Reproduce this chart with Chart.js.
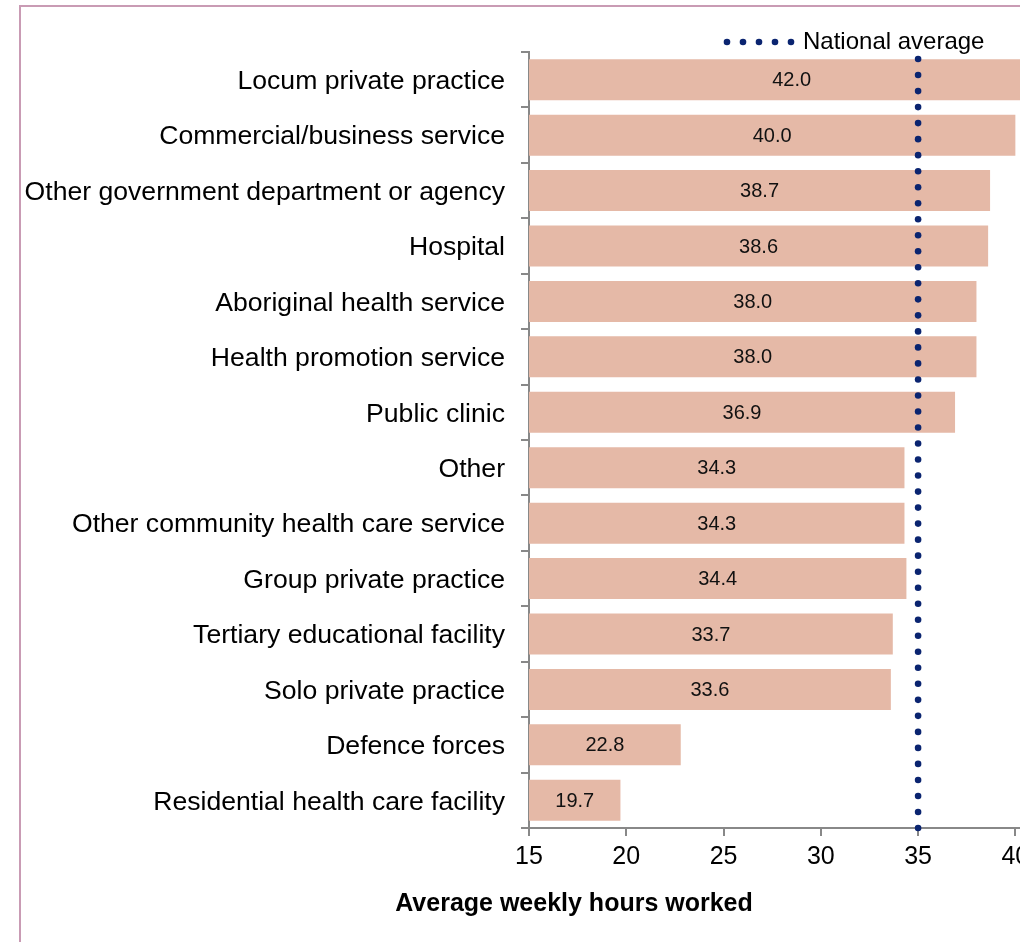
<!DOCTYPE html>
<html>
<head>
<meta charset="utf-8">
<title>Average weekly hours worked</title>
<script src="https://cdn.jsdelivr.net/npm/chart.js@4"></script>
<style>
html, body { margin: 0; padding: 0; background: #fff; overflow: hidden; }
#frame { position: absolute; left: 19px; top: 5px; width: 1100px; height: 1000px; border: 2px solid #c99bb4; }
</style>
</head>
<body>
<div id="frame"><canvas id="myChart" width="1050" height="935"></canvas></div>
<script>
const categories = [
    'Locum private practice',
    'Commercial/business service',
    'Other government department or agency',
    'Hospital',
    'Aboriginal health service',
    'Health promotion service',
    'Public clinic',
    'Other',
    'Other community health care service',
    'Group private practice',
    'Tertiary educational facility',
    'Solo private practice',
    'Defence forces',
    'Residential health care facility'
];
const hours = [42.0, 40.0, 38.7, 38.6, 38.0, 38.0, 36.9, 34.3, 34.3, 34.4, 33.7, 33.6, 22.8, 19.7];
const nationalAverage = 35.0;
const xMin = 15;
const xMax = 42.5;
const xStep = 5;

const fontFamily = '"Liberation Sans", Arial, sans-serif';
const navy = '#0a2470';

// labels in bars, dotted average line, legend and axis title
const extras = {
    id: 'extras',
    afterDatasetsDraw(chart) {
        const ctx = chart.ctx;
        const area = chart.chartArea;
        const xScale = chart.scales.x;
        const meta = chart.getDatasetMeta(0);

        ctx.save();
        ctx.fillStyle = '#111';
        ctx.font = '20px ' + fontFamily;
        ctx.textAlign = 'center';
        ctx.textBaseline = 'middle';
        meta.data.forEach((bar, i) => {
            const start = Math.max(bar.base, area.left);
            ctx.fillText(hours[i].toFixed(1), (start + bar.x) / 2, bar.y + 1);
        });

        const avgX = xScale.getPixelForValue(nationalAverage);
        ctx.fillStyle = navy;
        for (let y = area.bottom; y >= area.top + 5; y -= 16.02) {
            ctx.beginPath();
            ctx.arc(avgX, y, 3.3, 0, Math.PI * 2);
            ctx.fill();
        }

        // legend
        for (let i = 0; i < 5; i++) {
            ctx.beginPath();
            ctx.arc(706 + i * 16, 35, 3.3, 0, Math.PI * 2);
            ctx.fill();
        }
        ctx.fillStyle = '#000';
        ctx.font = '24px ' + fontFamily;
        ctx.textAlign = 'left';
        ctx.fillText('National average', 782, 35);

        ctx.font = 'bold 25px ' + fontFamily;
        ctx.textAlign = 'center';
        ctx.textBaseline = 'alphabetic';
        ctx.fillText('Average weekly hours worked', 553, 904);
        ctx.restore();
    }
};

const ctx = document.getElementById('myChart').getContext('2d');
const chartInstance = new Chart(ctx, {
    type: 'bar',
    data: {
        labels: categories,
        datasets: [{
            label: 'Average weekly hours',
            data: hours,
            backgroundColor: '#e5b9a7',
            borderWidth: 0,
            barPercentage: 0.74,
            categoryPercentage: 1.0
        }]
    },
    options: {
        indexAxis: 'y',
        responsive: false,
        animation: false,
        layout: { padding: { top: 45, right: 7, left: 0, bottom: 0 } },
        plugins: {
            legend: { display: false },
            tooltip: { enabled: false }
        },
        scales: {
            x: {
                type: 'linear',
                min: xMin,
                max: xMax,
                ticks: {
                    stepSize: xStep,
                    includeBounds: false,
                    color: '#000',
                    padding: 6,
                    font: { size: 25, family: fontFamily }
                },
                grid: { drawOnChartArea: false, tickLength: 8, color: '#888', lineWidth: 2 },
                border: { color: '#888', width: 2 },
                afterFit(scale) { scale.height = 114; }
            },
            y: {
                type: 'category',
                ticks: {
                    color: '#000',
                    padding: 16,
                    labelOffset: 2,
                    font: { size: 26.6, family: fontFamily }
                },
                grid: { offset: true, drawOnChartArea: false, tickLength: 8, color: '#888', lineWidth: 2 },
                border: { color: '#888', width: 2 },
                afterFit(scale) { scale.width = 508; }
            }
        }
    },
    plugins: [extras]
});
</script>
</body>
</html>
